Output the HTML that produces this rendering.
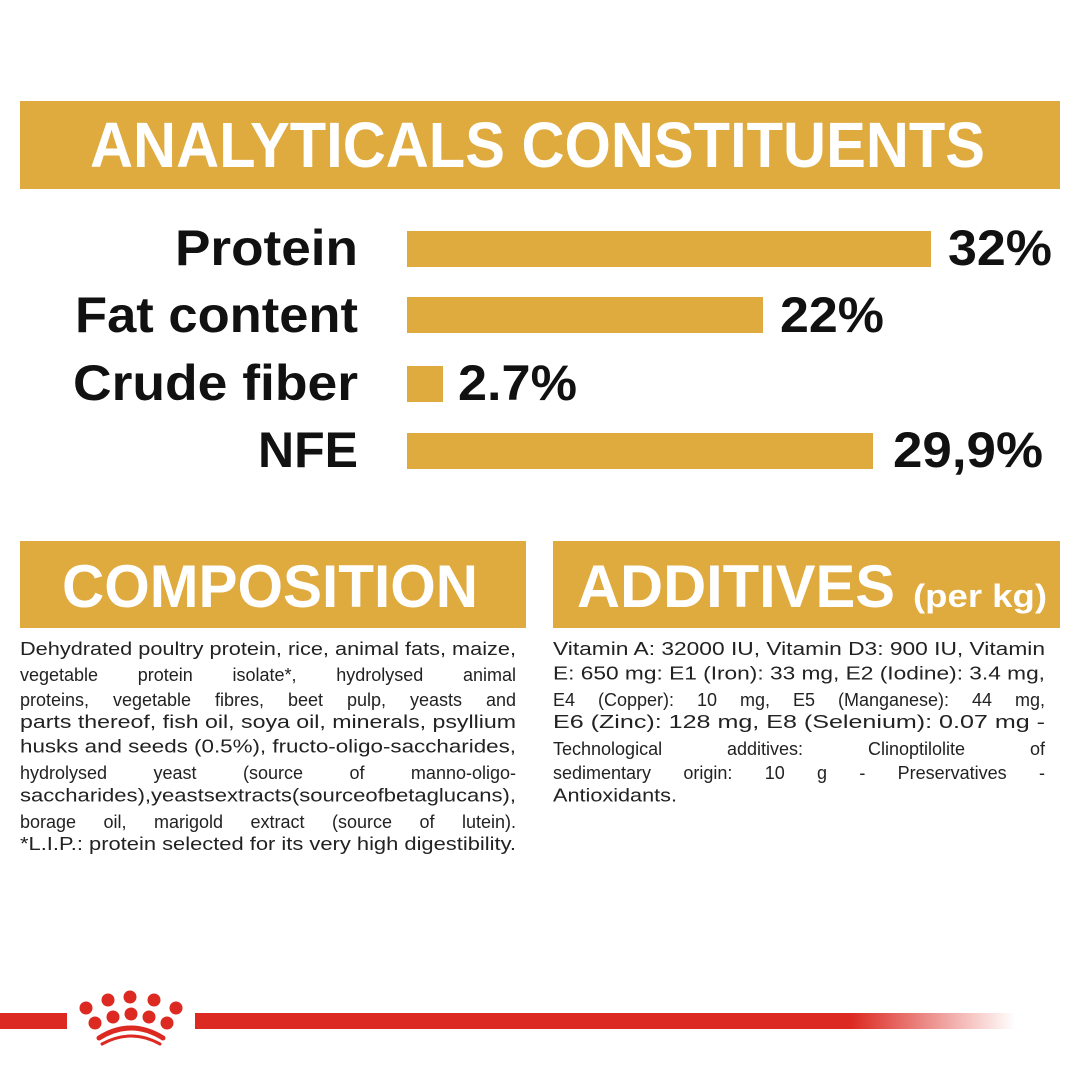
<!DOCTYPE html>
<html><head><meta charset="utf-8"><style>
html,body{margin:0;padding:0;background:#fff;}
svg{display:block;position:absolute;left:0;top:0}
.j{position:absolute;font-family:"Liberation Sans",sans-serif;font-size:18px;color:#222;white-space:nowrap;text-align:justify;text-align-last:justify;line-height:20px;}
</style></head><body>
<svg width="1080" height="1080" viewBox="0 0 1080 1080" xmlns="http://www.w3.org/2000/svg" font-family="Liberation Sans, sans-serif">
<rect width="1080" height="1080" fill="#fff"/>
<rect x="20" y="101" width="1040" height="88" fill="#dfaa3e"/>
<text x="90" y="167" font-size="64" font-weight="bold" fill="#fff" textLength="895" lengthAdjust="spacingAndGlyphs">ANALYTICALS CONSTITUENTS</text>

<g font-size="50" font-weight="bold" fill="#111">
<text x="175" y="265" textLength="183" lengthAdjust="spacingAndGlyphs">Protein</text>
<text x="75" y="332" textLength="283" lengthAdjust="spacingAndGlyphs">Fat content</text>
<text x="73" y="400" textLength="285" lengthAdjust="spacingAndGlyphs">Crude fiber</text>
<text x="258" y="467" textLength="100" lengthAdjust="spacingAndGlyphs">NFE</text>
<text x="948" y="265" textLength="104" lengthAdjust="spacingAndGlyphs">32%</text>
<text x="780" y="332" textLength="104" lengthAdjust="spacingAndGlyphs">22%</text>
<text x="458" y="400" textLength="119" lengthAdjust="spacingAndGlyphs">2.7%</text>
<text x="893" y="467" textLength="150" lengthAdjust="spacingAndGlyphs">29,9%</text>
</g>
<g fill="#dfaa3e">
<rect x="407" y="231" width="524" height="36"/>
<rect x="407" y="297" width="356" height="36"/>
<rect x="407" y="366" width="36" height="36"/>
<rect x="407" y="433" width="466" height="36"/>
</g>

<rect x="20" y="541" width="506" height="87" fill="#dfaa3e"/>
<rect x="553" y="541" width="507" height="87" fill="#dfaa3e"/>
<text x="62" y="607" font-size="60" font-weight="bold" fill="#fff" textLength="416" lengthAdjust="spacingAndGlyphs">COMPOSITION</text>
<text x="577" y="607" font-size="60" font-weight="bold" fill="#fff" textLength="318" lengthAdjust="spacingAndGlyphs">ADDITIVES</text>
<text x="913" y="607" font-size="32" font-weight="bold" fill="#fff" textLength="134" lengthAdjust="spacingAndGlyphs">(per kg)</text>

<g font-size="18" fill="#222">
<text x="20" y="655" textLength="496" lengthAdjust="spacingAndGlyphs">Dehydrated poultry protein, rice, animal fats, maize,</text>
<text x="20" y="728.2" textLength="496" lengthAdjust="spacingAndGlyphs">parts thereof, fish oil, soya oil, minerals, psyllium</text>
<text x="20" y="752.6" textLength="496" lengthAdjust="spacingAndGlyphs">husks and seeds (0.5%), fructo-oligo-saccharides,</text>
<text x="20" y="801.4" textLength="496" lengthAdjust="spacingAndGlyphs">saccharides),yeastsextracts(sourceofbetaglucans),</text>
<text x="20" y="850.2" textLength="496" lengthAdjust="spacingAndGlyphs">*L.I.P.: protein selected for its very high digestibility.</text>

<text x="553" y="655" textLength="492" lengthAdjust="spacingAndGlyphs">Vitamin A: 32000 IU, Vitamin D3: 900 IU, Vitamin</text>
<text x="553" y="679.4" textLength="492" lengthAdjust="spacingAndGlyphs">E: 650 mg: E1 (Iron): 33 mg, E2 (Iodine): 3.4 mg,</text>
<text x="553" y="728.2" textLength="492" lengthAdjust="spacingAndGlyphs">E6 (Zinc): 128 mg, E8 (Selenium): 0.07 mg -</text>
<text x="553" y="801.4" textLength="124" lengthAdjust="spacingAndGlyphs">Antioxidants.</text>
</g>

<defs><linearGradient id="fade" x1="0" x2="1"><stop offset="0.8" stop-color="#dc2a22"/><stop offset="1" stop-color="#dc2a22" stop-opacity="0"/></linearGradient></defs>
<rect x="0" y="1013" width="67" height="16" fill="#dc2a22"/>
<rect x="195" y="1013" width="820" height="16" fill="url(#fade)"/>
<g fill="#dc2a22">
<circle cx="86" cy="1008" r="6.5"/><circle cx="108" cy="1000" r="6.5"/><circle cx="130" cy="997" r="6.5"/><circle cx="154" cy="1000" r="6.5"/><circle cx="176" cy="1008" r="6.5"/>
<circle cx="95" cy="1023" r="6.5"/><circle cx="113" cy="1017" r="6.5"/><circle cx="131" cy="1014" r="6.5"/><circle cx="149" cy="1017" r="6.5"/><circle cx="167" cy="1023" r="6.5"/>
</g>
<path d="M99 1038 Q131 1018 163 1038" stroke="#dc2a22" stroke-width="5" fill="none" stroke-linecap="round"/>
<path d="M102 1044 Q131 1028 160 1044" stroke="#dc2a22" stroke-width="3" fill="none" stroke-linecap="round"/>
</svg>
<div class="j" style="left:20px;top:665.4px;width:496px">vegetable protein isolate*, hydrolysed animal</div>
<div class="j" style="left:20px;top:689.8px;width:496px">proteins, vegetable fibres, beet pulp, yeasts and</div>
<div class="j" style="left:20px;top:763px;width:496px">hydrolysed yeast (source of manno-oligo-</div>
<div class="j" style="left:20px;top:811.8px;width:496px">borage oil, marigold extract (source of lutein).</div>
<div class="j" style="left:553px;top:689.8px;width:492px">E4 (Copper): 10 mg, E5 (Manganese): 44 mg,</div>
<div class="j" style="left:553px;top:738.6px;width:492px">Technological additives: Clinoptilolite of</div>
<div class="j" style="left:553px;top:763px;width:492px">sedimentary origin: 10 g - Preservatives -</div>
</body></html>
